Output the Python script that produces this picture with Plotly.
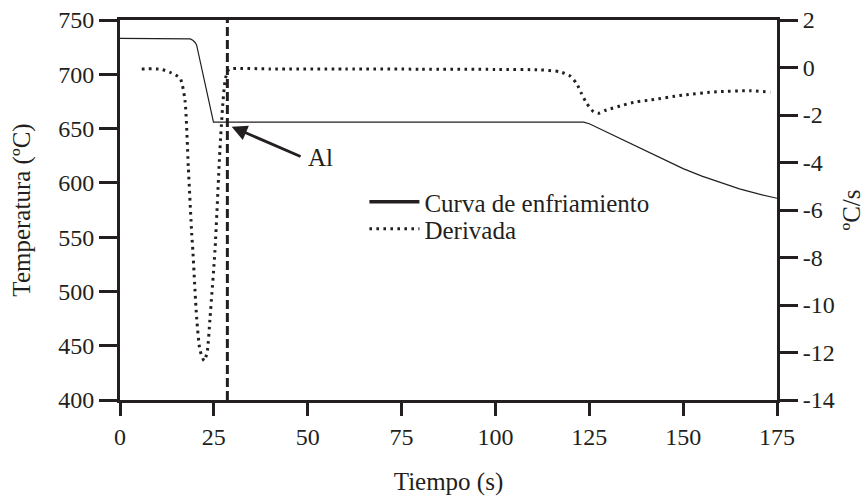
import plotly.graph_objects as go

# ---- data ----
time_cooling = [0, 17.7, 18.7, 19.4, 20.0, 20.4, 24.9, 60, 100, 123.5, 125, 130, 135, 140,
                145, 150, 155, 160, 165, 170, 175]
temp_cooling = [733, 733, 732.6, 731.3, 729.3, 727, 656, 656, 656, 656, 654.4, 646.2, 637.7,
                629.2, 621.0, 613.1, 606.2, 600.0, 594.5, 589.8, 585.8]

time_deriv = [5.8, 10.7, 13.3, 16.0, 17.3, 18.2, 19.1, 19.4, 20.4, 21.3, 22.4, 23.2, 24.0,
              25.3, 26.6, 27.4, 28.0, 28.7, 29.3, 40, 60, 80, 100, 112, 117.2, 119.9, 121.6,
              122.9, 124.3, 126.1, 127.4, 129.6, 134.1, 137.6, 141.2, 150, 159, 167.8, 173.2]
rate_deriv = [-0.06, -0.07, -0.2, -0.45, -1.37, -4.2, -7.0, -7.7, -10.5, -11.9, -12.35, -12.0,
              -10.5, -7.7, -3.5, -1.5, -0.53, -0.15, -0.06, -0.06, -0.06, -0.07, -0.08, -0.1,
              -0.18, -0.36, -0.67, -1.09, -1.51, -1.86, -1.93, -1.79, -1.58, -1.44, -1.37,
              -1.16, -1.02, -0.98, -1.04]

al_time = 28.6
al_label = "Al"
al_arrow_head = (29.75, 651.7)
al_arrow_tail = (48.5, 623.7)
al_text_pos = (53.3, 623.8)

x_range = [0, 175]
x_ticks = [0, 25, 50, 75, 100, 125, 150, 175]
x_ticktext = ["0", "25", "50", "75", "100", "125", "150", "175"]
temp_range = [400, 750]
temp_ticks = [400, 450, 500, 550, 600, 650, 700, 750]
temp_ticktext = ["400", "450", "500", "550", "600", "650", "700", "750"]
rate_range = [-14, 2]
rate_ticks = [-14, -12, -10, -8, -6, -4, -2, 0, 2]
rate_ticktext = ["-14", "-12", "-10", "-8", "-6", "-4", "-2", "0", "2"]

INK = "#231f20"
FONT = "Liberation Serif"
FS_TICK = 24
FS = 25
DOT = "2.6px,4.4px"

fig = go.Figure()

fig.add_trace(go.Scatter(x=time_cooling, y=temp_cooling, mode="lines",
                         line=dict(color=INK, width=1.2), showlegend=False,
                         hoverinfo="skip", yaxis="y"))
fig.add_trace(go.Scatter(x=time_deriv, y=rate_deriv, mode="lines",
                         line=dict(color=INK, width=3, dash=DOT, shape="spline",
                                   smoothing=0.6),
                         showlegend=False, hoverinfo="skip", yaxis="y2"))
fig.add_trace(go.Scatter(x=[al_time, al_time], y=temp_range, mode="lines",
                         line=dict(color=INK, width=3, dash="9px,4px"), showlegend=False,
                         hoverinfo="skip", yaxis="y", cliponaxis=False))

# legend entries (one legend box each, to match the tight spacing)
fig.add_trace(go.Scatter(x=[None], y=[None], mode="lines", name="Curva de enfriamiento",
                         line=dict(color=INK, width=3.5), legend="legend"))
fig.add_trace(go.Scatter(x=[None], y=[None], mode="lines", name="Derivada",
                         line=dict(color=INK, width=3, dash=DOT), legend="legend2"))

axis_common = dict(showgrid=False, zeroline=False, ticks="outside", tickwidth=3,
                   linewidth=3, linecolor=INK, tickcolor=INK, automargin=False,
                   tickfont=dict(family=FONT, size=FS_TICK, color=INK))

legend_common = dict(xanchor="left", yanchor="middle", bgcolor="rgba(0,0,0,0)",
                     font=dict(family=FONT, size=FS, color=INK), itemwidth=50)

fig.update_layout(
    width=865, height=498,
    margin=dict(l=120, r=88, t=20, b=98),
    paper_bgcolor="white", plot_bgcolor="white",
    font=dict(family=FONT, size=FS, color=INK),
    xaxis=dict(range=x_range, tickvals=x_ticks, ticktext=x_ticktext, ticklen=13,
               mirror=True,
               title=dict(text="Tiempo (s)", standoff=24, font=dict(family=FONT, size=FS)),
               **axis_common),
    yaxis=dict(range=temp_range, tickvals=temp_ticks, ticktext=temp_ticktext, ticklen=18,
               title=dict(text="Temperatura (ºC)", standoff=21, font=dict(family=FONT, size=FS)),
               **axis_common),
    yaxis2=dict(range=rate_range, tickvals=rate_ticks, ticktext=rate_ticktext, ticklen=18,
                overlaying="y", side="right",
                title=dict(text="ºC/s", standoff=12, font=dict(family=FONT, size=FS)),
                **axis_common),
    legend=dict(x=0.372, y=0.521, **legend_common),
    legend2=dict(x=0.372, y=0.45, **legend_common),
    showlegend=True,
    annotations=[
        dict(x=al_arrow_head[0], y=al_arrow_head[1], ax=al_arrow_tail[0], ay=al_arrow_tail[1],
             xref="x", yref="y", axref="x", ayref="y", text="", showarrow=True,
             arrowhead=2, arrowsize=1.1, arrowwidth=2.8, arrowcolor=INK),
        dict(x=al_text_pos[0], y=al_text_pos[1], xref="x", yref="y", text=al_label,
             showarrow=False, font=dict(family=FONT, size=FS, color=INK)),
    ],
)

fig.write_html("out.html", config={"displayModeBar": False},
               post_script="document.body.style.margin='0';document.body.style.overflow='hidden';")
